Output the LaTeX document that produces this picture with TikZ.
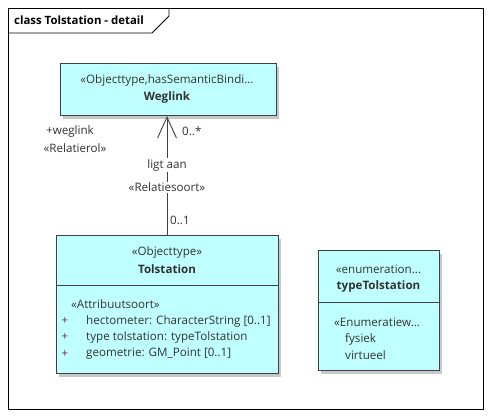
\documentclass[tikz,border=0pt]{standalone}
\usepackage{fontspec}
\setmainfont{Open Sans}
\usetikzlibrary{arrows.meta}
\definecolor{boxfill}{RGB}{192,255,255}
\definecolor{boxline}{RGB}{64,64,64}
\definecolor{shadowc}{RGB}{200,200,200}
\definecolor{txt}{RGB}{50,50,50}
\definecolor{plusc}{RGB}{128,30,70}
\tikzset{
  umlbox/.style={draw=boxline, fill=boxfill, line width=0.9pt, anchor=north west, inner sep=0pt},
  shadowbox/.style={fill=shadowc, anchor=north west, inner sep=0pt, draw=none},
  lbl/.style={font=\fontsize{11.6}{13}\selectfont, text=txt, inner sep=1pt},
  lblw/.style={lbl, fill=white},
  bold/.style={lbl, font=\fontsize{11.6}{13}\selectfont\bfseries},
  leftlbl/.style={lbl, anchor=west},
  plus/.style={lbl, text=plusc},
}
\begin{document}
\begin{tikzpicture}[x=1pt,y=-1pt]
\useasboundingbox (0,0) rectangle (491,418);
\fill[white] (0,0) rectangle (491,418);
% frame
\draw[line width=1pt, black] (8,8) rectangle (483,409);
\draw[line width=0.8pt, black] (8,33) -- (152,33) -- (169,16) -- (169,8);
\node[lbl, anchor=west, text=black, font=\fontsize{11.4}{13}\selectfont\bfseries] (title) at (13,20.5) {class Tolstation - detail};

% Weglink
\node[shadowbox, minimum width=216, minimum height=52] (wegsh) at (63,67) {};
\node[umlbox, minimum width=216, minimum height=52] (weg) at (60,63) {};
\node[lbl] (wegst) at (167,80) {«Objecttype,hasSemanticBindi...};
\node[bold] (wegnm) at (167,97.5) {Weglink};

% Tolstation
\node[shadowbox, minimum width=222, minimum height=138] (tolsh) at (59,239) {};
\node[umlbox, minimum width=222, minimum height=138] (tol) at (56,235) {};
\draw[boxline, line width=0.9pt] (tol.west |- 0,285) -- (tol.east |- 0,285);
\node[lbl] (tolst) at (167,252.5) {«Objecttype»};
\node[bold] (tolnm) at (167,269.5) {Tolstation};
\node[leftlbl] (attst) at (70,304) {«Attribuutsoort»};
\node[plus] (p1) at (65,321) {+};
\node[plus] (p2) at (65,337.5) {+};
\node[plus] (p3) at (65,354) {+};
\node[leftlbl] (a1) at (85,321) {hectometer: CharacterString [0..1]};
\node[leftlbl] (a2) at (85,337.5) {type tolstation: typeTolstation};
\node[leftlbl] (a3) at (85,354) {geometrie: GM\_Point [0..1]};

% typeTolstation
\node[shadowbox, minimum width=121, minimum height=120] (typsh) at (321,254) {};
\node[umlbox, minimum width=121, minimum height=120] (typ) at (318,250) {};
\draw[boxline, line width=0.9pt] (typ.west |- 0,302) -- (typ.east |- 0,302);
\node[lbl] (typst) at (378.5,269.5) {«enumeration...};
\node[bold] (typnm) at (378.5,286.5) {typeTolstation};
\node[leftlbl] (enst) at (333,322.5) {«Enumeratiew...};
\node[leftlbl] (e1) at (344,339) {fysiek};
\node[leftlbl] (e2) at (344,355.5) {virtueel};

% association
\coordinate (top) at (167,116);
\coordinate (bot) at (167,235);
\draw[boxline, line width=0.9pt, -{Straight Barb[length=21pt,width=19pt,line width=0.9pt]}] (bot) -- (top);
\node[lblw] (ligt) at (167,165) {ligt aan};
\node[lblw] (rels) at (167,187.5) {«Relatiesoort»};
\node[lbl] (rol) at (70,131) {+weglink};
\node[lbl] (rolst) at (75,148) {«Relatierol»};
\node[leftlbl] (m1) at (181,131) {0..*};
\node[leftlbl] (m2) at (169,220.5) {0..1};
\end{tikzpicture}
\end{document}
